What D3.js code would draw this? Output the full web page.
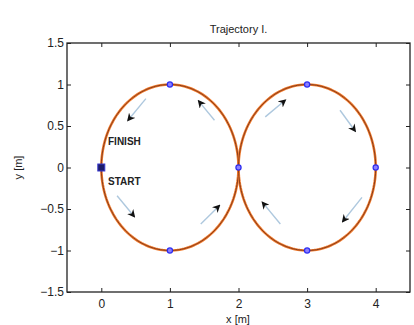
<!DOCTYPE html>
<html>
<head>
<meta charset="utf-8">
<script src="https://cdn.jsdelivr.net/npm/d3@7"></script>
<style>
  body { margin: 0; background: #fff; }
  svg { display: block; font-family: Arial, "Liberation Sans", sans-serif; }
</style>
</head>
<body>
<svg id="chart" width="414" height="325"></svg>
<script>
// Figure-eight path: two unit circles centred at (1,0) and (3,0)
const circleCenters = [1, 3];
const circleRadius = 1;

// Waypoints along the path
const waypointsX = [1, 1, 2, 3, 3, 4];
const waypointsY = [1, -1, 0, 1, -1, 0];
const startPoint = [0, 0];

// Direction arrows: tail and head positions
const arrowTailX = [0.65, 0.23, 1.45, 2.39, 3.48, 3.80, 2.61, 1.65];
const arrowTailY = [0.83, -0.34, -0.68, 0.61, 0.69, -0.36, -0.68, 0.57];
const arrowHeadX = [0.39, 0.48, 1.72, 2.68, 3.70, 3.52, 2.35, 1.42];
const arrowHeadY = [0.57, -0.59, -0.46, 0.81, 0.44, -0.65, -0.42, 0.80];

const xTicks = [0, 1, 2, 3, 4];
const yTicks = [-1.5, -1, -0.5, 0, 0.5, 1, 1.5];

const svg = d3.select("#chart");
const m = { left: 67, right: 410, top: 43, bottom: 292 };

const x = d3.scaleLinear().domain([-0.5, 4.5]).range([m.left, m.right]);
const y = d3.scaleLinear().domain([-1.5, 1.5]).range([m.bottom, m.top]);

const fmt = v => (v < 0 ? "\u2212" : "") + d3.format("")(Math.abs(v));

// Axes with inward ticks on all four sides
const tickLen = 4;
svg.append("g").attr("transform", `translate(0,${m.bottom})`)
  .call(d3.axisBottom(x).tickValues(xTicks).tickSizeInner(-tickLen).tickSizeOuter(0).tickPadding(7).tickFormat(fmt));
svg.append("g").attr("transform", `translate(0,${m.top})`)
  .call(d3.axisTop(x).tickValues(xTicks).tickSizeInner(-tickLen).tickSizeOuter(0).tickFormat(""));
svg.append("g").attr("transform", `translate(${m.left},0)`)
  .call(d3.axisLeft(y).tickValues(yTicks).tickSizeInner(-tickLen).tickSizeOuter(0).tickPadding(3).tickFormat(fmt));
svg.append("g").attr("transform", `translate(${m.right},0)`)
  .call(d3.axisRight(y).tickValues(yTicks).tickSizeInner(-tickLen).tickSizeOuter(0).tickFormat(""));

svg.selectAll(".domain").remove();
svg.selectAll(".tick line").attr("stroke", "#222").attr("stroke-width", 1);
svg.selectAll(".tick text").attr("font-size", 12).attr("fill", "#222");

svg.append("rect")
  .attr("x", m.left).attr("y", m.top)
  .attr("width", m.right - m.left).attr("height", m.bottom - m.top)
  .attr("fill", "none").attr("stroke", "#222").attr("stroke-width", 1.3);

// Trajectory circles: planned (orange) and followed (dark) paths
const line = d3.line().x(d => x(d[0])).y(d => y(d[1]));
const circlePts = cx => d3.range(0, 361, 2).map(a => {
  const t = a * Math.PI / 180;
  return [cx + circleRadius * Math.cos(t), circleRadius * Math.sin(t)];
});
circleCenters.forEach(cx => {
  svg.append("path").datum(circlePts(cx)).attr("d", line)
    .attr("fill", "none").attr("stroke", "#f07a2c").attr("stroke-width", 2.6);
  svg.append("path").datum(circlePts(cx)).attr("d", line)
    .attr("fill", "none").attr("stroke", "#7a3418").attr("stroke-width", 0.9);
});

// Direction arrows
const defs = svg.append("defs");
defs.append("marker").attr("id", "head")
  .attr("viewBox", "0 0 10 10").attr("refX", 8).attr("refY", 5)
  .attr("markerWidth", 8).attr("markerHeight", 8).attr("markerUnits", "userSpaceOnUse")
  .attr("orient", "auto")
  .append("path").attr("d", "M0,0 L10,5 L0,10 L3,5 Z").attr("fill", "#111");

arrowTailX.forEach((tx, i) => {
  svg.append("line")
    .attr("x1", x(tx)).attr("y1", y(arrowTailY[i]))
    .attr("x2", x(arrowHeadX[i])).attr("y2", y(arrowHeadY[i]))
    .attr("stroke", "#aec8de").attr("stroke-width", 1.4)
    .attr("marker-end", "url(#head)");
});

// Waypoint markers
svg.selectAll(".wp").data(waypointsX).enter().append("circle")
  .attr("cx", d => x(d)).attr("cy", (d, i) => y(waypointsY[i])).attr("r", 2.6)
  .attr("fill", "#8c80ff").attr("stroke", "#2d2df0").attr("stroke-width", 1.2);

svg.append("rect")
  .attr("x", x(startPoint[0]) - 3.5).attr("y", y(startPoint[1]) - 3.5)
  .attr("width", 7).attr("height", 7)
  .attr("fill", "#1c1c6a").attr("stroke", "#3a3ad0").attr("stroke-width", 1);

// Start / finish labels
svg.append("text").attr("x", 108).attr("y", 145).text("FINISH")
  .attr("font-size", 10).attr("font-weight", "bold").attr("fill", "#222");
svg.append("text").attr("x", 108).attr("y", 185).text("START")
  .attr("font-size", 10).attr("font-weight", "bold").attr("fill", "#222");

// Titles
svg.append("text").attr("x", (m.left + m.right) / 2).attr("y", 33).attr("text-anchor", "middle")
  .attr("font-size", 11).attr("fill", "#222").text("Trajectory I.");
svg.append("text").attr("x", 238).attr("y", 323).attr("text-anchor", "middle")
  .attr("font-size", 11).attr("fill", "#222").text("x [m]");
svg.append("text").attr("transform", `translate(22,${y(0)}) rotate(-90)`).attr("text-anchor", "middle")
  .attr("font-size", 11).attr("fill", "#222").text("y [m]");
</script>
</body>
</html>
